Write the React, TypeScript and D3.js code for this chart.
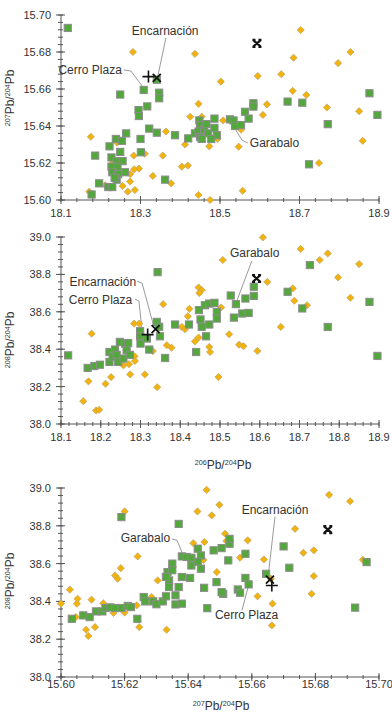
import React from 'react';
import * as d3 from 'd3';

// panel 1: 206Pb/204Pb vs 207Pb/204Pb
const p1Green = [
  [18.117, 15.693], [18.249, 15.657], [18.308, 15.6595], [18.347, 15.658], [18.347, 15.655], [18.341, 15.665],
  [18.317, 15.6506], [18.295, 15.6486], [18.296, 15.6454], [18.322, 15.6386], [18.341, 15.6364], [18.387, 15.635],
  [18.186, 15.624], [18.222, 15.629], [18.238, 15.633], [18.253, 15.632], [18.264, 15.636], [18.249, 15.626],
  [18.227, 15.623], [18.24, 15.621], [18.255, 15.621], [18.227, 15.618], [18.242, 15.618], [18.261, 15.615],
  [18.229, 15.615], [18.244, 15.614], [18.24, 15.611], [18.219, 15.607], [18.229, 15.607], [18.196, 15.609],
  [18.177, 15.603], [18.3, 15.633], [18.301, 15.6258], [18.362, 15.611], [18.235, 15.612],
  [18.42, 15.6333], [18.437, 15.636], [18.448, 15.643], [18.45, 15.6405], [18.446, 15.637], [18.45, 15.634],
  [18.46, 15.638], [18.466, 15.641], [18.47, 15.636], [18.486, 15.644], [18.486, 15.639], [18.492, 15.635],
  [18.454, 15.633], [18.478, 15.633], [18.525, 15.6436], [18.534, 15.643], [18.538, 15.64], [18.553, 15.6405],
  [18.572, 15.644], [18.563, 15.6477], [18.584, 15.6523], [18.584, 15.6505], [18.67, 15.6532], [18.707, 15.6526],
  [18.771, 15.641], [18.876, 15.6577], [18.896, 15.646], [18.724, 15.6193],
];
const p1Yellow = [
  [18.175, 15.6342], [18.281, 15.68], [18.437, 15.679], [18.502, 15.664], [18.446, 15.652], [18.425, 15.645],
  [18.454, 15.645], [18.508, 15.643], [18.364, 15.637], [18.412, 15.63], [18.473, 15.629], [18.356, 15.624],
  [18.283, 15.624], [18.311, 15.625], [18.296, 15.617], [18.284, 15.6166], [18.274, 15.614], [18.404, 15.618],
  [18.419, 15.6186], [18.331, 15.613], [18.377, 15.609], [18.274, 15.61], [18.255, 15.6076], [18.286, 15.6054],
  [18.268, 15.6045], [18.171, 15.6045], [18.446, 15.6027], [18.475, 15.6], [18.211, 15.608],
  [18.703, 15.6919], [18.685, 15.6769], [18.595, 15.667], [18.654, 15.668], [18.797, 15.674], [18.828, 15.68],
  [18.683, 15.659], [18.717, 15.6568], [18.618, 15.6517], [18.608, 15.646], [18.769, 15.65], [18.85, 15.648],
  [18.859, 15.632], [18.749, 15.62], [18.547, 15.6288], [18.557, 15.605], [18.494, 15.633], [18.553, 15.638],
  [18.241, 15.631], [18.23, 15.62],
];

// panel 2: 206Pb/204Pb vs 208Pb/204Pb
const p2Green = [
  [18.118, 38.367], [18.167, 38.3], [18.184, 38.31], [18.198, 38.317], [18.222, 38.332], [18.222, 38.385],
  [18.23, 38.36], [18.236, 38.398], [18.24, 38.37], [18.248, 38.439], [18.261, 38.43], [18.269, 38.433],
  [18.244, 38.332], [18.257, 38.35], [18.265, 38.394], [18.273, 38.37], [18.299, 38.496], [18.299, 38.469],
  [18.3, 38.43], [18.316, 38.457], [18.322, 38.398], [18.341, 38.546], [18.347, 38.52], [18.349, 38.469],
  [18.343, 38.812], [18.362, 38.353], [18.387, 38.532], [18.422, 38.532], [18.44, 38.385], [18.447, 38.609],
  [18.451, 38.559], [18.454, 38.52], [18.462, 38.635], [18.473, 38.644], [18.486, 38.648], [18.492, 38.6],
  [18.492, 38.564], [18.473, 38.532], [18.465, 38.469], [18.527, 38.687], [18.54, 38.641], [18.564, 38.671],
  [18.585, 38.685], [18.585, 38.734], [18.535, 38.569], [18.556, 38.591], [18.572, 38.594], [18.67, 38.707],
  [18.707, 38.618], [18.726, 38.85], [18.771, 38.519], [18.876, 38.653], [18.896, 38.364],
];
const p2Yellow = [
  [18.177, 38.483], [18.156, 38.122], [18.188, 38.072], [18.196, 38.076], [18.169, 38.228], [18.212, 38.215],
  [18.226, 38.251], [18.274, 38.265], [18.311, 38.265], [18.342, 38.197], [18.284, 38.537], [18.297, 38.537],
  [18.257, 38.314], [18.271, 38.32], [18.285, 38.362], [18.286, 38.337], [18.357, 38.641], [18.366, 38.421],
  [18.378, 38.408], [18.404, 38.519], [18.412, 38.507], [18.423, 38.616], [18.419, 38.576], [18.437, 38.442],
  [18.446, 38.462], [18.446, 38.73], [18.454, 38.716], [18.448, 38.7], [18.473, 38.412], [18.475, 38.385],
  [18.496, 38.251], [18.507, 38.877], [18.503, 38.623], [18.608, 38.998], [18.703, 38.936], [18.751, 38.877],
  [18.771, 38.912], [18.85, 38.855], [18.797, 38.784], [18.619, 38.76], [18.683, 38.725], [18.687, 38.659],
  [18.719, 38.635], [18.828, 38.675], [18.653, 38.519], [18.523, 38.48], [18.548, 38.424], [18.559, 38.416],
  [18.594, 38.391], [18.331, 38.39],
];

// panel 3: 207Pb/204Pb vs 208Pb/204Pb
const p3Green = [
  [15.6034, 38.308], [15.607, 38.326], [15.609, 38.317], [15.611, 38.347], [15.613, 38.347], [15.614, 38.365],
  [15.6155, 38.368], [15.617, 38.365], [15.619, 38.365], [15.621, 38.376], [15.622, 38.37], [15.624, 38.308],
  [15.626, 38.423], [15.6265, 38.4], [15.629, 38.4], [15.63, 38.385], [15.632, 38.4], [15.633, 38.427],
  [15.634, 38.511], [15.6335, 38.555], [15.635, 38.6], [15.635, 38.565], [15.634, 38.476], [15.637, 38.476],
  [15.636, 38.432], [15.636, 38.384], [15.638, 38.388], [15.637, 38.81], [15.619, 38.846], [15.638, 38.529],
  [15.6406, 38.524], [15.638, 38.638], [15.6395, 38.635], [15.641, 38.631], [15.641, 38.59], [15.643, 38.679],
  [15.644, 38.643], [15.644, 38.573], [15.645, 38.472], [15.646, 38.364], [15.648, 38.67], [15.6505, 38.682],
  [15.651, 38.44], [15.653, 38.705], [15.653, 38.731], [15.6526, 38.617], [15.658, 38.652], [15.6489, 38.502],
  [15.6505, 38.449], [15.658, 38.524], [15.659, 38.49], [15.6556, 38.463], [15.6563, 38.446], [15.6645, 38.546],
  [15.67, 38.691], [15.6718, 38.578], [15.6925, 38.367], [15.6961, 38.608], [15.643, 38.61], [15.633, 38.53],
];
const p3Yellow = [
  [15.6, 38.388], [15.6028, 38.462], [15.605, 38.388], [15.6052, 38.414], [15.6047, 38.317], [15.6096, 38.409],
  [15.6079, 38.25], [15.6086, 38.217], [15.6107, 38.264], [15.6133, 38.39], [15.6165, 38.339], [15.62, 38.341],
  [15.617, 38.537], [15.6178, 38.52], [15.6188, 38.576], [15.62, 38.876], [15.6238, 38.379], [15.6241, 38.638],
  [15.6246, 38.264], [15.6285, 38.423], [15.6304, 38.511], [15.6332, 38.25], [15.6458, 38.99], [15.6429, 38.876],
  [15.6474, 38.855], [15.6498, 38.911], [15.6416, 38.708], [15.6451, 38.714], [15.649, 38.555], [15.6516, 38.758],
  [15.6448, 38.62], [15.6843, 38.964], [15.6909, 38.93], [15.6736, 38.784], [15.6587, 38.723], [15.6563, 38.631],
  [15.6638, 38.622], [15.6762, 38.657], [15.6795, 38.67], [15.6949, 38.62], [15.6795, 38.534], [15.6788, 38.44],
  [15.6618, 38.427], [15.6665, 38.388], [15.6663, 38.273], [15.652, 38.72], [15.666, 38.52],
];

// reference points: [bold X, Encarnación, Cerro Plaza]
const p1Refs = [[18.593, 15.6847], [18.341, 15.666], [18.32, 15.6667]];
const p2Refs = [[18.592, 38.778], [18.338, 38.507], [18.318, 38.478]];
const p3Refs = [[15.6839, 38.78], [15.6657, 38.515], [15.6663, 38.484]];

const p1XTicks = [18.1, 18.3, 18.5, 18.7, 18.9];
const p1YTicks = [15.6, 15.62, 15.64, 15.66, 15.68, 15.7];
const p2XTicks = [18.1, 18.2, 18.3, 18.4, 18.5, 18.6, 18.7, 18.8, 18.9];
const p2YTicks = [38.0, 38.2, 38.4, 38.6, 38.8, 39.0];
const p3XTicks = [15.6, 15.62, 15.64, 15.66, 15.68, 15.7];
const p3YTicks = [38.0, 38.2, 38.4, 38.6, 38.8, 39.0];

const FONT = "'Liberation Sans Narrow', 'Arial Narrow', 'Liberation Sans', Arial, sans-serif";
const GREEN = '#52a83a';
const YELLOW = '#f4b30a';

type Ann = { text: string; x: number; y: number; anchor: string; line: number[][] };

const p1Ann: Ann[] = [
  { text: 'Encarnación', x: 18.362, y: 15.689, anchor: 'middle', line: [[18.364, 15.6876], [18.342, 15.6654]] },
  { text: 'Cerro Plaza', x: 18.253, y: 15.668, anchor: 'end', line: [[18.258, 15.6703], [18.276, 15.6697], [18.304, 15.6616]] },
  { text: 'Garabalo', x: 18.575, y: 15.6286, anchor: 'start', line: [[18.57, 15.6308], [18.555, 15.6324], [18.54, 15.6378]] },
];
const p2Ann: Ann[] = [
  { text: 'Encarnación', x: 18.289, y: 38.737, anchor: 'end', line: [[18.291, 38.764], [18.304, 38.753], [18.334, 38.517]] },
  { text: 'Cerro Plaza', x: 18.279, y: 38.64, anchor: 'end', line: [[18.286, 38.668], [18.296, 38.657], [18.304, 38.501]] },
  { text: 'Garabalo', x: 18.525, y: 38.893, anchor: 'start', line: [[18.58, 38.872], [18.54, 38.645]] },
];
const p3Ann: Ann[] = [
  { text: 'Garabalo', x: 15.6343, y: 38.712, anchor: 'end', line: [[15.6349, 38.73], [15.6365, 38.723], [15.6384, 38.643]] },
  { text: 'Encarnación', x: 15.6673, y: 38.865, anchor: 'middle', line: [[15.6673, 38.849], [15.6651, 38.527]] },
  { text: 'Cerro Plaza', x: 15.6484, y: 38.305, anchor: 'start', line: [[15.6569, 38.352], [15.6588, 38.474]] },
];

function Iso({ a, b, big }: { a: string; b: string; big?: number }) {
  const s = big ?? 12;
  return (
    <>
      <tspan fontSize={s * 0.6} dy={-s * 0.35}>{a}</tspan>
      <tspan dy={s * 0.35}>Pb/</tspan>
      <tspan fontSize={s * 0.6} dy={-s * 0.35}>{b}</tspan>
      <tspan dy={s * 0.35}>Pb</tspan>
    </>
  );
}

type PanelProps = {
  xDomain: number[]; yDomain: number[]; top: number; bottom: number;
  xTicks: number[]; yTicks: number[]; xMinor: number; yMinor: number;
  xFmt: string; yFmt: string; xLabelDy: number;
  green: number[][]; yellow: number[][]; refs: number[][]; ann: Ann[];
  yTitle: string[]; yTitleY: number;
};

function Panel(p: PanelProps) {
  const x = d3.scaleLinear().domain(p.xDomain).range([61, 379]);
  const y = d3.scaleLinear().domain(p.yDomain).range([p.bottom, p.top]);
  const xf = d3.format(p.xFmt);
  const yf = d3.format(p.yFmt);
  const xMinor = d3.range(p.xDomain[0], p.xDomain[1] + p.xMinor / 2, p.xMinor);
  const yMinor = d3.range(p.yDomain[0], p.yDomain[1] + p.yMinor / 2, p.yMinor);
  const line = d3.line<number[]>().x(d => x(d[0])).y(d => y(d[1]));
  const [bx, enc, cp] = p.refs;
  const axisCol = '#555';
  return (
    <g fontFamily={FONT}>
      {/* axes */}
      <line x1={61} x2={61} y1={y(p.yDomain[1])} y2={p.bottom} stroke={axisCol} strokeWidth={1} />
      <line x1={61} x2={379} y1={p.bottom} y2={p.bottom} stroke={axisCol} strokeWidth={1} />
      {xMinor.map((v, i) => (
        <line key={'xm' + i} x1={x(v)} x2={x(v)} y1={p.bottom - 2} y2={p.bottom + 2} stroke={axisCol} />
      ))}
      {yMinor.map((v, i) => (
        <line key={'ym' + i} x1={58} x2={63} y1={y(v)} y2={y(v)} stroke={axisCol} />
      ))}
      {p.xTicks.map(v => (
        <g key={'xt' + v}>
          <line x1={x(v)} x2={x(v)} y1={p.bottom - 4} y2={p.bottom + 4} stroke={axisCol} />
          <text x={x(v)} y={p.bottom + p.xLabelDy} textAnchor="middle" fontSize={11} fill="#333">{xf(v)}</text>
        </g>
      ))}
      {p.yTicks.map(v => (
        <g key={'yt' + v}>
          <line x1={56} x2={65} y1={y(v)} y2={y(v)} stroke={axisCol} />
          <text x={51} y={y(v) + 4} textAnchor="end" fontSize={11} fill="#333">{yf(v)}</text>
        </g>
      ))}
      <text transform={`translate(14,${p.yTitleY}) rotate(-90)`} textAnchor="middle" fontSize={12} fill="#333">
        <Iso a={p.yTitle[0]} b={p.yTitle[1]} />
      </text>
      {/* annotations */}
      {p.ann.map(a => (
        <g key={a.text}>
          <path d={line(a.line) ?? ''} fill="none" stroke="#9a9a9a" strokeWidth={1} />
          <text x={x(a.x)} y={y(a.y)} textAnchor={a.anchor} fontSize={12} fill="#333">{a.text}</text>
        </g>
      ))}
      {/* data */}
      {p.yellow.map((d, i) => (
        <path key={'y' + i} transform={`translate(${x(d[0])},${y(d[1])})`} d="M0,-3.6L3.6,0L0,3.6L-3.6,0Z"
          fill={YELLOW} stroke="#b9a46a" strokeWidth={0.7} />
      ))}
      {p.green.map((d, i) => (
        <rect key={'g' + i} x={x(d[0]) - 3.6} y={y(d[1]) - 3.6} width={7.2} height={7.2}
          fill={GREEN} stroke="#8c8c8c" strokeWidth={1} />
      ))}
      <path transform={`translate(${x(bx[0])},${y(bx[1])})`} d="M-4,-3.5L4,3.5M-4,3.5L4,-3.5M-4.5,-3.5H-1.5M1.5,-3.5H4.5M-4.5,3.5H-1.5M1.5,3.5H4.5"
        stroke="#111" strokeWidth={2.2} fill="none" />
      <path transform={`translate(${x(enc[0])},${y(enc[1])})`} d="M-4,-4L4,4M-4,4L4,-4" stroke="#111" strokeWidth={1.8} fill="none" />
      <path transform={`translate(${x(cp[0])},${y(cp[1])})`} d="M-6,0H6M0,-6V6" stroke="#111" strokeWidth={1.6} fill="none" />
    </g>
  );
}

export default function App() {
  return (
    <svg width={392} height={719} style={{ position: 'absolute', left: 0, top: 0, background: '#fff' }}>
      <Panel xDomain={[18.1, 18.9]} yDomain={[15.6, 15.7]} top={15} bottom={200}
        xTicks={p1XTicks} yTicks={p1YTicks} xMinor={0.04} yMinor={0.004} xFmt=".1f" yFmt=".2f" xLabelDy={17}
        green={p1Green} yellow={p1Yellow} refs={p1Refs} ann={p1Ann} yTitle={['207', '204']} yTitleY={98} />
      <Panel xDomain={[18.1, 18.9]} yDomain={[38.0, 39.0]} top={237} bottom={424}
        xTicks={p2XTicks} yTicks={p2YTicks} xMinor={0.02} yMinor={0.04} xFmt=".1f" yFmt=".1f" xLabelDy={17}
        green={p2Green} yellow={p2Yellow} refs={p2Refs} ann={p2Ann} yTitle={['208', '204']} yTitleY={340} />
      <text x={223} y={469} textAnchor="middle" fontSize={12} fill="#333" fontFamily={FONT}>
        <Iso a="206" b="204" />
      </text>
      <Panel xDomain={[15.6, 15.7]} yDomain={[38.0, 39.0]} top={488} bottom={677}
        xTicks={p3XTicks} yTicks={p3YTicks} xMinor={0.005} yMinor={0.04} xFmt=".2f" yFmt=".1f" xLabelDy={11}
        green={p3Green} yellow={p3Yellow} refs={p3Refs} ann={p3Ann} yTitle={['208', '204']} yTitleY={581} />
      <text x={221} y={710} textAnchor="middle" fontSize={12} fill="#333" fontFamily={FONT}>
        <Iso a="207" b="204" />
      </text>
    </svg>
  );
}
